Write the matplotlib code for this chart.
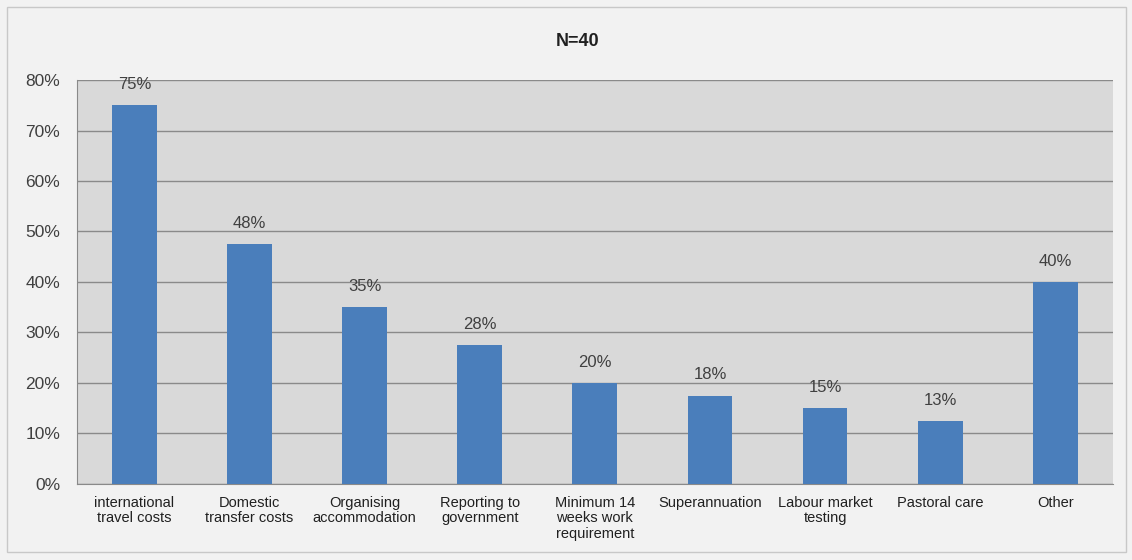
import matplotlib.pyplot as plt
from matplotlib.patches import Rectangle
from matplotlib.ticker import FuncFormatter

plt.rcParams['font.family'] = ['Liberation Sans', 'DejaVu Sans']

categories = ['international\ntravel costs', 'Domestic\ntransfer costs', 'Organising\naccommodation',
              'Reporting to\ngovernment', 'Minimum 14\nweeks work\nrequirement', 'Superannuation',
              'Labour market\ntesting', 'Pastoral care', 'Other']
values = [75, 47.5, 35, 27.5, 20, 17.5, 15, 12.5, 40]
labels = ['75%', '48%', '35%', '28%', '20%', '18%', '15%', '13%', '40%']

fig = plt.figure(figsize=(11.32, 5.6), dpi=100)
fig.patch.set_facecolor('#f2f2f2')
fig.patches.append(Rectangle((0.006, 0.014), 0.989, 0.973, transform=fig.transFigure,
                             fill=False, edgecolor='#c8c8c8', linewidth=1))
ax = fig.add_axes([0.068, 0.136, 0.915, 0.721])
ax.set_facecolor('#d9d9d9')

x = range(len(categories))
ax.bar(x, values, width=0.39, color='#4a7ebb', zorder=3)
for i, v in enumerate(values):
    ax.text(i, v + 2.6, labels[i], ha='center', va='bottom', fontsize=12, color='#404040')

ax.set_xlim(-0.5, len(categories) - 0.5)
ax.set_ylim(0, 80)
ax.set_yticks(range(0, 81, 10))
ax.yaxis.set_major_formatter(FuncFormatter(lambda v, p: '%d%%' % v))
ax.set_xticks(list(x))
ax.set_xticklabels(categories, fontsize=10.5, color='#202020', linespacing=1.1)
ax.tick_params(axis='y', labelsize=12.5, labelcolor='#404040', length=0, pad=12)
ax.tick_params(axis='x', length=0, pad=9)
ax.grid(axis='y', color='#8a8a8a', linewidth=1, zorder=0)
for s in ax.spines.values():
    s.set_visible(False)
ax.spines['left'].set_visible(True)
ax.spines['left'].set_color('#8a8a8a')
ax.spines['bottom'].set_visible(True)
ax.spines['bottom'].set_color('#8a8a8a')

fig.text(0.510, 0.925, 'N=40', ha='center', va='center', fontsize=13, fontweight='bold', color='#202020')

fig.savefig('out.png', dpi=100, facecolor=fig.get_facecolor())
